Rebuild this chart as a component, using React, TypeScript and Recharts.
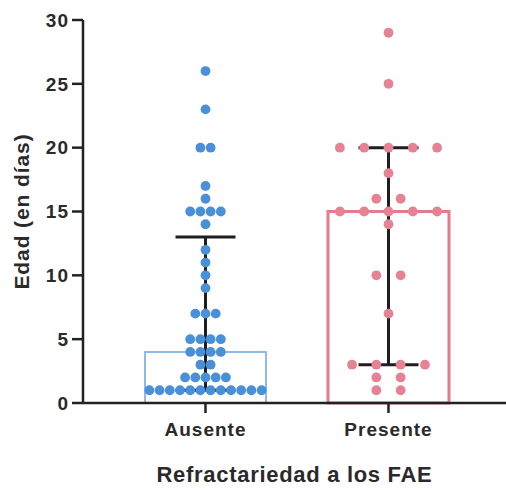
import React from "react";
import {
  ComposedChart,
  Bar,
  Cell,
  Scatter,
  ErrorBar,
  XAxis,
  YAxis,
} from "recharts";

const CATEGORIES = ["Ausente", "Presente"];
const MEDIANS = [4, 15];
const LOWER = [1, 3];
const UPPER = [13, 20];
const Y_TICKS = [0, 5, 10, 15, 20, 25, 30];

const AUSENTE_VALUES = [
  26, 23, 20, 20, 17, 16, 15, 15, 15, 15, 14, 12, 11, 10, 9, 7, 7, 7, 5, 5, 5,
  5, 4, 4, 4, 4, 3, 3, 2, 2, 2, 2, 2, 1, 1, 1, 1, 1, 1, 1, 1, 1, 1, 1, 1,
];
const PRESENTE_VALUES = [
  29, 25, 20, 20, 20, 20, 20, 18, 16, 16, 15, 15, 15, 15, 15, 14, 10, 10, 7, 3,
  3, 3, 3, 2, 2, 1, 1,
];

const DOT_COLORS = ["#4a90d9", "#e58293"];
const BAR_STROKES = ["#8dbbe8", "#e27d8e"];
const DOT_GAP = [10.2, 24.3];

const FONT = "'Liberation Sans', Arial, sans-serif";
const INK = "#2a2a2a";

// swarm: same values sit side by side, centred on the category
const swarm = (values: number[], cat: string, gap: number, color: string) => {
  const counts: Record<number, number> = {};
  values.forEach((v) => (counts[v] = (counts[v] || 0) + 1));
  const seen: Record<number, number> = {};
  return values.map((v) => {
    seen[v] = (seen[v] ?? -1) + 1;
    return { cat, v, off: (seen[v] - (counts[v] - 1) / 2) * gap, color };
  });
};

const dots = [
  ...swarm(AUSENTE_VALUES, CATEGORIES[0], DOT_GAP[0], DOT_COLORS[0]),
  ...swarm(PRESENTE_VALUES, CATEGORIES[1], DOT_GAP[1], DOT_COLORS[1]),
];

const groups = CATEGORIES.map((cat, i) => ({
  cat,
  median: MEDIANS[i],
  err: [MEDIANS[i] - LOWER[i], UPPER[i] - MEDIANS[i]],
}));

const Dot = (props: any) => {
  const { cx, cy, payload } = props;
  if (cx == null || cy == null) return <g />;
  return <circle cx={cx + payload.off} cy={cy} r={4.9} fill={payload.color} />;
};

const tickStyle = { fill: INK, fontSize: 19, fontWeight: 700, fontFamily: FONT, letterSpacing: 1 };

export default function App() {
  return (
    <div style={{ position: "absolute", left: 0, top: 0, background: "#fff" }}>
      <ComposedChart
        width={506}
        height={490}
        data={groups}
        margin={{ top: 20, right: 0, bottom: 0, left: 0 }}
      >
        <XAxis
          dataKey="cat"
          type="category"
          allowDuplicatedCategory={false}
          padding={{ left: 31, right: 26 }}
          height={87}
          tickSize={10}
          tickMargin={10}
          tick={tickStyle}
          axisLine={{ stroke: "#222", strokeWidth: 2.5 }}
          tickLine={{ stroke: "#222", strokeWidth: 2.5 }}
          label={{
            value: "Refractariedad a los FAE",
            position: "insideBottom",
            offset: 8,
            style: { fill: INK, fontSize: 22, fontWeight: 700, fontFamily: FONT, letterSpacing: 0.7 },
          }}
        />
        <YAxis
          type="number"
          domain={[0, 30]}
          ticks={Y_TICKS}
          width={83}
          tickSize={11}
          tickMargin={3}
          tick={tickStyle}
          axisLine={{ stroke: "#222", strokeWidth: 2.5 }}
          tickLine={{ stroke: "#222", strokeWidth: 2.5 }}
          label={{
            value: "Edad (en días)",
            angle: -90,
            position: "insideLeft",
            offset: 22,
            style: { textAnchor: "middle", fill: INK, fontSize: 21, fontWeight: 700, fontFamily: FONT, letterSpacing: 0.9 },
          }}
        />
        <Bar dataKey="median" barSize={121} isAnimationActive={false}>
          {groups.map((g, i) => (
            <Cell key={g.cat} fill="none" stroke={BAR_STROKES[i]} strokeWidth={i === 0 ? 2 : 3} />
          ))}
        </Bar>
        <Scatter data={dots} dataKey="v" shape={<Dot />} isAnimationActive={false} />
        <Scatter data={groups} dataKey="median" shape={() => <g />} isAnimationActive={false}>
          <ErrorBar dataKey="err" direction="y" width={30} stroke="#1e1e1e" strokeWidth={3} />
        </Scatter>
      </ComposedChart>
    </div>
  );
}
